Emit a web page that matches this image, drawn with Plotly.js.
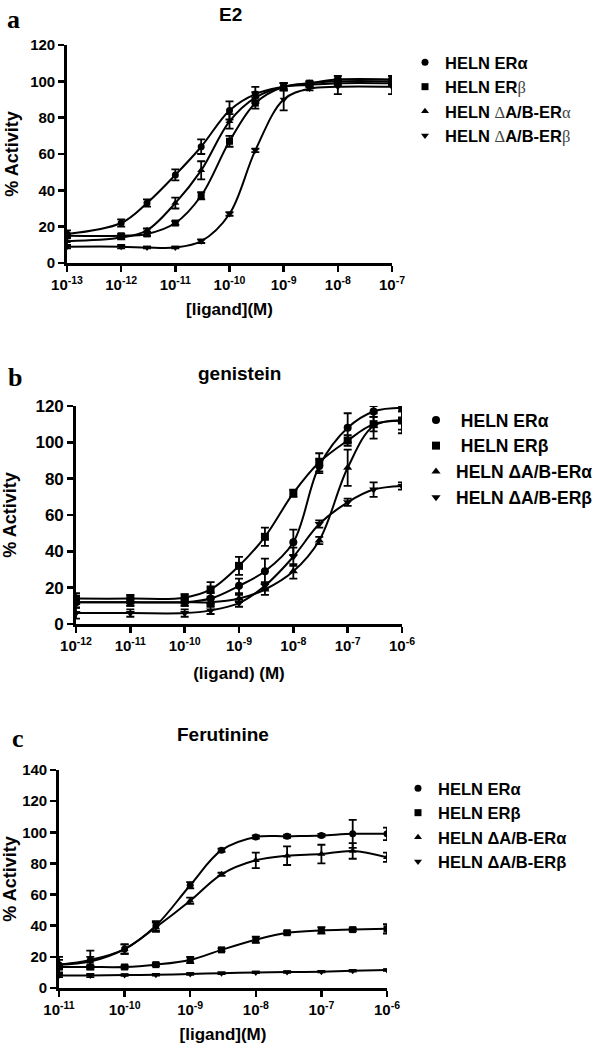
<!DOCTYPE html>
<html>
<head>
<meta charset="utf-8">
<script src="https://cdn.plot.ly/plotly-3.0.1.min.js"></script>
<style>html,body{margin:0;padding:0;background:#fff;}#chart{width:600px;height:1044px;}</style>
</head>
<body>
<div id="chart"></div>
<script>
// ---------- Panel a : E2 ----------
const e2Conc = [1e-13, 1e-12, 3e-12, 1e-11, 3e-11, 1e-10, 3e-10, 1e-9, 3e-9, 1e-8, 1e-7];
const e2ERa      = [16, 22, 33, 48.5, 64, 84, 93, 97, 99, 100, 100];
const e2ERaErr   = [2, 2, 2, 3, 4, 5, 4, 2, 1, 1, 1];
const e2ERb      = [15, 15, 16, 22, 37, 67, 88, 97, 99, 101, 101];
const e2ERbErr   = [1, 1, 1, 1, 2, 3, 3, 2, 1, 2, 2];
const e2dERa     = [12, 14, 18, 33, 51, 78, 91, 97, 98, 99, 99];
const e2dERaErr  = [2, 1, 1, 3, 5, 4, 3, 2, 1, 1, 1];
const e2dERb     = [9, 9, 8.5, 8.5, 12, 27, 62, 90, 96, 97, 97];
const e2dERbErr  = [1, 1, 0.5, 0.5, 1, 1, 1, 6, 1, 4, 4];

// ---------- Panel b : genistein ----------
const genConc = [1e-12, 1e-11, 1e-10, 3e-10, 1e-9, 3e-9, 1e-8, 3e-8, 1e-7, 3e-7, 1e-6];
const genERa      = [12, 12, 12, 14, 21, 29, 45, 87, 108, 117, 119];
const genERaErr   = [3, 2, 2, 3, 4, 7, 7, 4, 8, 3, 2];
const genERb      = [14, 14, 14.5, 19, 32, 48, 72, 89, 101, 110, 112];
const genERbErr   = [3, 2, 2, 4, 5, 5, 2, 5, 3, 4, 7];
const gendERa     = [12, 12, 12, 12, 14, 19, 29, 46, 86, 109, 112];
const gendERaErr  = [3, 2, 2, 2, 2, 3, 4, 2, 10, 7, 5];
const gendERb     = [6, 6, 6, 7.5, 11.5, 21, 37, 55, 67, 74, 76];
const gendERbErr  = [3, 2, 2, 2, 2, 2, 5, 2, 2, 4, 2];

// ---------- Panel c : Ferutinine ----------
const ferConc = [1e-11, 3e-11, 1e-10, 3e-10, 1e-9, 3e-9, 1e-8, 3e-8, 1e-7, 3e-7, 1e-6];
const ferERa      = [15, 18, 25, 40, 66, 88.5, 97, 97.5, 98, 99, 99];
const ferERaErr   = [5, 6, 3, 3, 2, 1, 1, 1, 1, 9, 4];
const ferERb      = [13.5, 13.5, 13.5, 15, 18, 24.5, 31, 35.5, 37, 37.5, 38];
const ferERbErr   = [1, 1, 1, 1, 2, 1, 2, 1, 2, 1, 3];
const ferdERa     = [15, 17, 25, 39, 56, 73, 82, 85, 86, 88, 84];
const ferdERaErr  = [3, 3, 3, 3, 2, 1, 5, 6, 6, 5, 3];
const ferdERb     = [8, 8, 8.3, 8.5, 9, 9.5, 10, 10.2, 10.5, 11, 11.5];
const ferdERbErr  = [1, 1, 0.5, 0.5, 0.5, 0.5, 0.5, 0.5, 0.5, 0.5, 0.5];

// ---------- labels ----------
const seriesSymbols = ['circle', 'square', 'triangle-up', 'triangle-down'];
const serifSpan = s => '<span style="font-family:\'Liberation Serif\';font-weight:normal;color:#444">' + s + '</span>';
const namesA = ['HELN ERα', 'HELN ER' + serifSpan('β'), 'HELN ' + serifSpan('Δ') + 'A/B-ER' + serifSpan('α'), 'HELN ' + serifSpan('Δ') + 'A/B-ER' + serifSpan('β')];
const namesB = [' HELN ERα', ' HELN ERβ', 'HELN ΔA/B-ERα', 'HELN ΔA/B-ERβ'];
const namesC = ['HELN ERα', 'HELN ERβ', 'HELN ΔA/B-ERα', 'HELN ΔA/B-ERβ'];
const panelTitles = ['E2', 'genistein', 'Ferutinine'];
const panelLetters = ['a', 'b', 'c'];
const xTitles = ['[ligand](M)', '(ligand) (M)', '[ligand](M)'];
const yTitle = '% Activity';
const ticksA = [1e-13, 1e-12, 1e-11, 1e-10, 1e-9, 1e-8, 1e-7];
const ticksB = [1e-12, 1e-11, 1e-10, 1e-9, 1e-8, 1e-7, 1e-6];
const ticksC = [1e-11, 1e-10, 1e-9, 1e-8, 1e-7, 1e-6];
const tickTextA = ['10<sup>-13</sup>', '10<sup>-12</sup>', '10<sup>-11</sup>', '10<sup>-10</sup>', '10<sup>-9</sup>', '10<sup>-8</sup>', '10<sup>-7</sup>'];
const tickTextB = ['10<sup>-12</sup>', '10<sup>-11</sup>', '10<sup>-10</sup>', '10<sup>-9</sup>', '10<sup>-8</sup>', '10<sup>-7</sup>', '10<sup>-6</sup>'];
const tickTextC = ['10<sup>-11</sup>', '10<sup>-10</sup>', '10<sup>-9</sup>', '10<sup>-8</sup>', '10<sup>-7</sup>', '10<sup>-6</sup>'];

const FONT = 'Liberation Sans, Arial, sans-serif';
const traces = [];
function addPanel(conc, ys, errs, names, xa, ya, legendId, msize) {
  ys.forEach((y, i) => {
    traces.push({
      x: conc, y: y, xaxis: xa, yaxis: ya, mode: 'lines', type: 'scatter',
      line: {shape: 'spline', smoothing: 1, color: 'black', width: 2},
      showlegend: false, hoverinfo: 'skip'
    });
  });
  ys.forEach((y, i) => {
    traces.push({
      x: conc, y: y, xaxis: xa, yaxis: ya, mode: 'markers', type: 'scatter',
      name: names[i], legend: legendId,
      marker: {symbol: seriesSymbols[i], size: msize, color: 'black'},
      error_y: {type: 'data', array: errs[i], visible: true, color: 'black', thickness: 1.8, width: 4}
    });
  });
}
addPanel(e2Conc, [e2ERa, e2ERb, e2dERa, e2dERb], [e2ERaErr, e2ERbErr, e2dERaErr, e2dERbErr], namesA, 'x', 'y', 'legend', 7);
addPanel(genConc, [genERa, genERb, gendERa, gendERb], [genERaErr, genERbErr, gendERaErr, gendERbErr], namesB, 'x2', 'y2', 'legend2', 8);
addPanel(ferConc, [ferERa, ferERb, ferdERa, ferdERb], [ferERaErr, ferERbErr, ferdERaErr, ferdERbErr], namesC, 'x3', 'y3', 'legend3', 7);

const W = 600, H = 1044;
const px = v => v / W, py = v => 1 - v / H;

function xAxis(left, right, range, tv, tt, title, standoff, anchor, tsize) {
  return {
    type: 'log', range: range, domain: [px(left), px(right)], anchor: anchor,
    tickvals: tv, ticktext: tt, ticks: 'outside', ticklen: 6, tickwidth: 2.5, tickcolor: 'black',
    showline: true, linewidth: 2.8, linecolor: 'black', showgrid: false, zeroline: false,
    tickfont: {family: FONT, size: tsize, weight: 'bold', color: 'black'},
    title: {text: title, standoff: standoff, font: {family: FONT, size: 17, weight: 'bold', color: 'black'}},
    automargin: false, fixedrange: true
  };
}
function yAxis(bottom, top, range, title, standoff, anchor, tsize) {
  return {
    range: range, domain: [py(bottom), py(top)], anchor: anchor, dtick: 20, tick0: 0,
    ticks: 'outside', ticklen: 6, tickwidth: 2.5, tickcolor: 'black',
    showline: true, linewidth: 2.8, linecolor: 'black', showgrid: false, zeroline: false,
    tickfont: {family: FONT, size: tsize, weight: 'bold', color: 'black'},
    title: {text: title, standoff: standoff, font: {family: FONT, size: 18, weight: 'bold', color: 'black'}},
    automargin: false, fixedrange: true
  };
}
function legendAt(xpx, ypx, size) {
  return {x: px(xpx), y: py(ypx), xanchor: 'left', yanchor: 'top', bgcolor: 'rgba(0,0,0,0)',
    font: {family: FONT, size: size, weight: 'bold', color: 'black'}, traceorder: 'normal', itemsizing: 'trace'};
}

const annFont = s => ({family: FONT, size: s, weight: 'bold', color: 'black'});
const letterFont = {family: 'Liberation Serif, Times New Roman, serif', size: 26, weight: 'bold', color: 'black'};
function ann(text, xpx, ypx, font) {
  return {text: text, x: px(xpx), y: py(ypx), xref: 'paper', yref: 'paper', xanchor: 'center', yanchor: 'middle',
    showarrow: false, font: font};
}
const annotations = [
  ann(panelTitles[0], 230, 14, annFont(19)),
  ann(panelTitles[1], 239, 373, annFont(19)),
  ann(panelTitles[2], 223, 735, annFont(19)),
  ann(panelLetters[0], 13, 19, letterFont),
  ann(panelLetters[1], 15, 377, letterFont),
  ann(panelLetters[2], 18, 738, letterFont)
];

const layout = {
  width: W, height: H, margin: {l: 0, r: 0, t: 0, b: 0},
  paper_bgcolor: 'white', plot_bgcolor: 'white', showlegend: true,
  xaxis:  xAxis(67, 392, [-13, -7], ticksA, tickTextA, xTitles[0], 12, 'y', 15),
  yaxis:  yAxis(263, 45, [0, 120], yTitle, 7, 'x', 15),
  xaxis2: xAxis(76, 402, [-12, -6], ticksB, tickTextB, xTitles[1], 15, 'y2', 15),
  yaxis2: yAxis(624, 406, [0, 120], yTitle, 16, 'x2', 17),
  xaxis3: xAxis(59, 387, [-11, -6], ticksC, tickTextC, xTitles[2], 12, 'y3', 15),
  yaxis3: yAxis(988, 770, [0, 140], yTitle, 4, 'x3', 15),
  legend:  legendAt(405, 45, 16.5),
  legend2: legendAt(416, 402, 17.5),
  legend3: legendAt(398, 771, 16.5),
  annotations: annotations
};

Plotly.newPlot('chart', traces, layout, {displayModeBar: false, staticPlot: true});
</script>
</body>
</html>
